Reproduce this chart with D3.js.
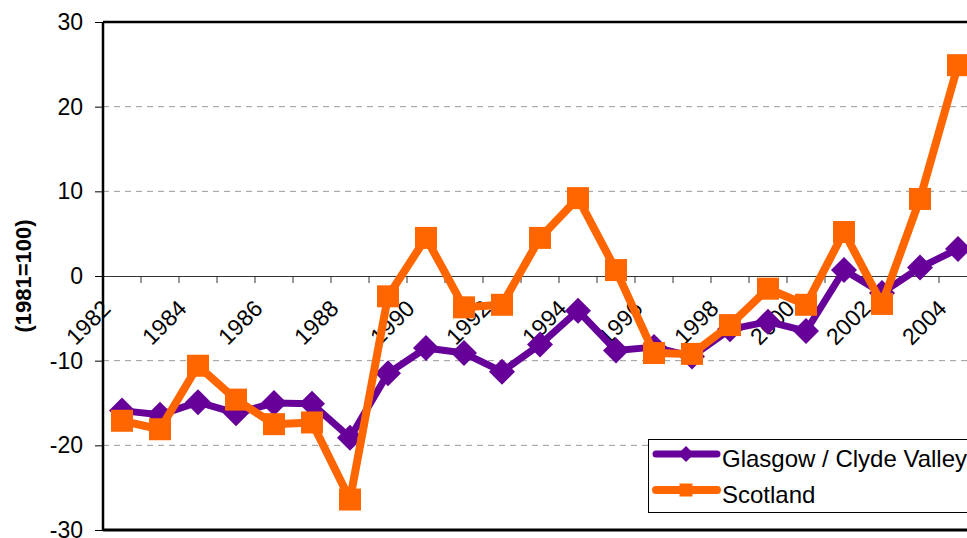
<!DOCTYPE html>
<html>
<head>
<meta charset="utf-8">
<script src="https://cdn.jsdelivr.net/npm/d3@7"></script>
<style>
  body { margin: 0; background: #fff; }
  text { font-family: 'Liberation Sans', Arial, sans-serif; }
</style>
</head>
<body>
<div id="chart"></div>
<script>
const years = d3.range(1982, 2005)
const glasgow = [-15.9, -16.4, -14.9, -16.2, -15.0, -15.1, -19.1, -11.5, -8.5, -9.1, -11.3,
  -8.1, -4.1, -8.8, -8.4, -9.5, -6.3, -5.4, -6.5, 0.7, -2.0, 1.0, 3.2]
const scotland = [-17.1, -18.1, -10.6, -14.6, -17.5, -17.3, -26.4, -2.4, 4.5, -3.7, -3.4,
  4.5, 9.2, 0.7, -9.1, -9.2, -5.8, -1.5, -3.4, 5.2, -3.3, 9.1, 24.9]
const yTicks = [-30, -20, -10, 0, 10, 20, 30]
const xLabels = years.filter(y => y % 2 === 0)
const seriesNames = ['Glasgow / Clyde Valley', 'Scotland']

const purple = '#660099'
const orange = '#ff6600'

const width = 967
const height = 538
const margin = { top: 22, left: 103, right: -10, bottom: 8 }

const svg = d3
  .select('#chart')
  .append('svg')
  .attr('width', width)
  .attr('height', height)

const x = d3
  .scaleBand()
  .domain(years)
  .range([margin.left, width - margin.right])
  .padding(0)

const y = d3
  .scaleLinear()
  .domain([-30, 30])
  .range([height - margin.bottom, margin.top])

// dashed gridlines
svg
  .append('g')
  .selectAll('line')
  .data(yTicks.filter(d => d !== 0 && d !== 30 && d !== -30))
  .enter()
  .append('line')
  .attr('x1', margin.left)
  .attr('x2', width)
  .attr('y1', d => y(d))
  .attr('y2', d => y(d))
  .attr('stroke', '#999')
  .attr('stroke-dasharray', '6 5')

// y axis
const yAxis = d3.axisLeft(y).tickValues(yTicks).tickSize(8).tickPadding(12)
const gy = svg
  .append('g')
  .attr('transform', 'translate(' + margin.left + ',0)')
  .call(yAxis)
gy.select('.domain').remove()
gy.selectAll('.tick line').attr('stroke', '#000')
gy.selectAll('.tick text')
  .attr('font-size', 23)
  .attr('fill', '#000')
  .text(d => d)

// x axis at zero
const xAxis = d3.axisBottom(x).tickValues(years).tickSize(0).tickFormat('')
const gx = svg
  .append('g')
  .attr('transform', 'translate(0,' + y(0) + ')')
  .call(xAxis)
gx.select('.domain').attr('stroke', '#333').attr('d', 'M' + margin.left + ',0.5H' + width)
gx.selectAll('.tick').remove()

svg
  .append('g')
  .selectAll('line')
  .data(years)
  .enter()
  .append('line')
  .attr('x1', d => x(d))
  .attr('x2', d => x(d))
  .attr('y1', y(0))
  .attr('y2', y(0) + 7)
  .attr('stroke', '#333')

svg
  .append('g')
  .selectAll('text')
  .data(xLabels)
  .enter()
  .append('text')
  .attr('transform', d => 'translate(' + (x(d) + x.bandwidth() / 2 - 10) + ',' + (y(0) + 34) + ') rotate(-45)')
  .attr('text-anchor', 'end')
  .attr('font-size', 23)
  .text(d => d)

// plot frame
svg
  .append('line')
  .attr('x1', margin.left)
  .attr('x2', width)
  .attr('y1', margin.top)
  .attr('y2', margin.top)
  .attr('stroke', '#000')
  .attr('stroke-width', 2.5)
svg
  .append('line')
  .attr('x1', margin.left)
  .attr('x2', width)
  .attr('y1', height - margin.bottom)
  .attr('y2', height - margin.bottom)
  .attr('stroke', '#000')
  .attr('stroke-width', 3)
svg
  .append('line')
  .attr('x1', margin.left)
  .attr('x2', margin.left)
  .attr('y1', margin.top)
  .attr('y2', height - margin.bottom)
  .attr('stroke', '#000')
  .attr('stroke-width', 2.5)

// y title
svg
  .append('text')
  .attr('transform', 'translate(31,' + y(0) + ') rotate(-90)')
  .attr('text-anchor', 'middle')
  .attr('font-size', 22)
  .attr('font-weight', 'bold')
  .text('(1981=100)')

const line = d3
  .line()
  .x((d, i) => x(years[i]) + x.bandwidth() / 2)
  .y(d => y(d))

const diamond = s => 'M0,' + -s + 'L' + s + ',0L0,' + s + 'L' + -s + ',0Z'
const square = s => 'M' + -s + ',' + -s + 'H' + s + 'V' + s + 'H' + -s + 'Z'

function drawSeries(values, color, lw, shape) {
  const g = svg.append('g')
  g.append('path')
    .datum(values)
    .attr('d', line)
    .attr('fill', 'none')
    .attr('stroke', color)
    .attr('stroke-width', lw)
    .attr('stroke-linejoin', 'round')
  g.selectAll('path.mark')
    .data(values)
    .enter()
    .append('path')
    .attr('class', 'mark')
    .attr('transform', (d, i) => 'translate(' + (x(years[i]) + x.bandwidth() / 2) + ',' + y(d) + ')')
    .attr('d', shape)
    .attr('fill', color)
}

drawSeries(glasgow, purple, 7, diamond(13))
drawSeries(scotland, orange, 8, square(11))

// legend
const legend = svg.append('g').attr('transform', 'translate(648,439)')
legend
  .append('rect')
  .attr('x', 0.5)
  .attr('y', 0.5)
  .attr('width', 340)
  .attr('height', 73)
  .attr('fill', '#fff')
  .attr('stroke', '#000')

const legendItems = [
  { name: seriesNames[0], color: purple, lw: 7, shape: diamond(8) },
  { name: seriesNames[1], color: orange, lw: 8, shape: square(6.5) }
]
legendItems.forEach((d, i) => {
  const ly = 15 + i * 36
  legend
    .append('line')
    .attr('x1', 8)
    .attr('x2', 69)
    .attr('y1', ly)
    .attr('y2', ly)
    .attr('stroke', d.color)
    .attr('stroke-width', d.lw)
    .attr('stroke-linecap', 'round')
  legend
    .append('path')
    .attr('transform', 'translate(38,' + ly + ')')
    .attr('d', d.shape)
    .attr('fill', d.color)
  legend
    .append('text')
    .attr('x', 74)
    .attr('y', ly + 13)
    .attr('font-size', 24)
    .text(d.name)
})
</script>
</body>
</html>
